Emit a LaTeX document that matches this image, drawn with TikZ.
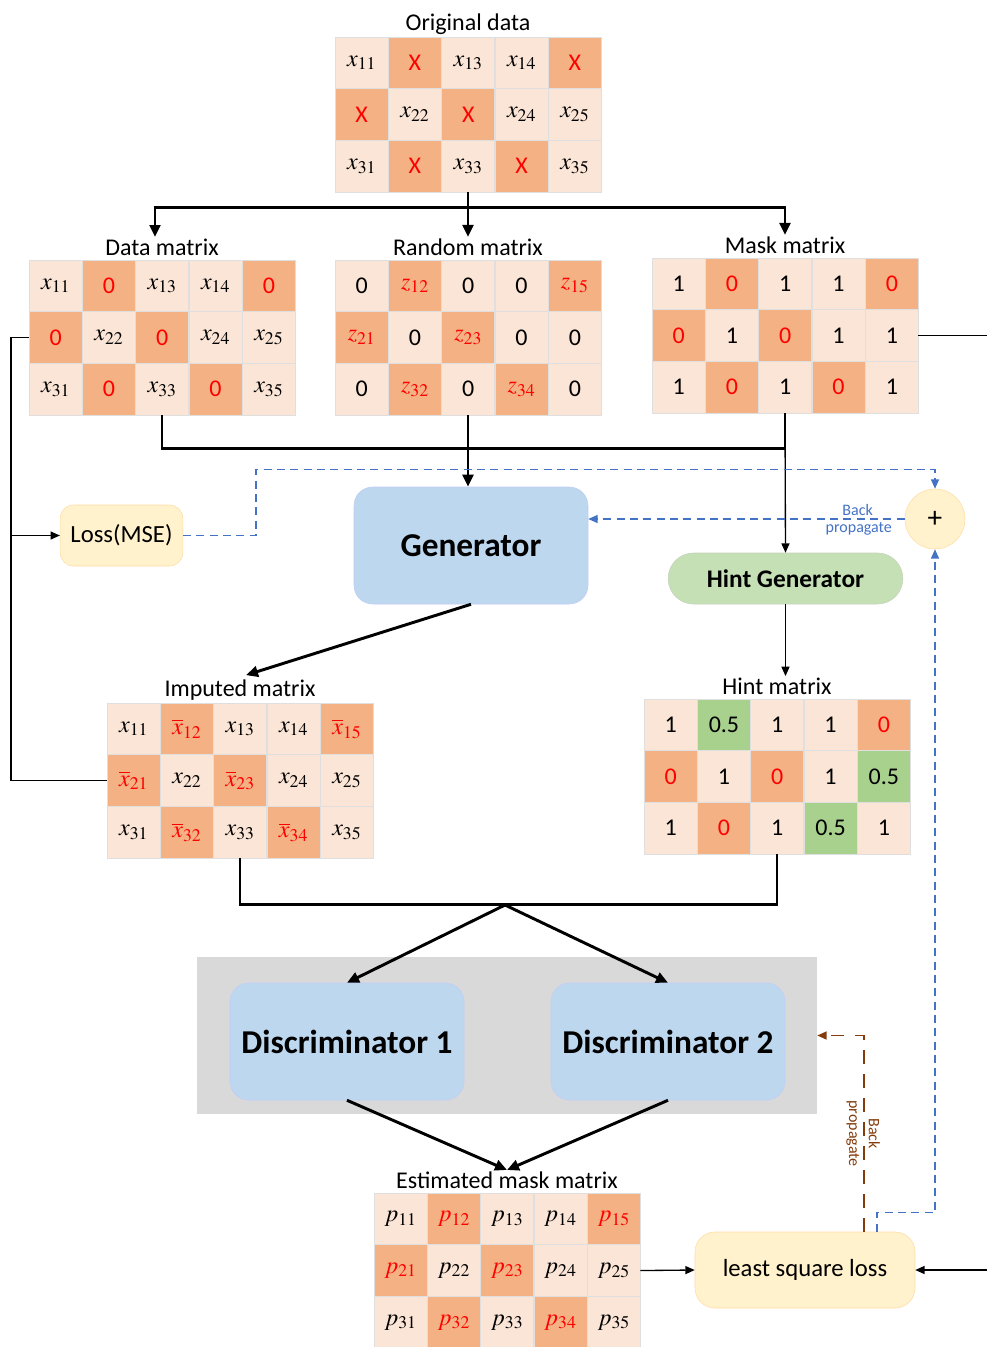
\documentclass[tikz,border=0pt]{standalone}
\usepackage{mathptmx}
\usepackage{fontspec}
\setmainfont{Carlito}
\usepackage{xcolor}
\usetikzlibrary{arrows.meta,calc,positioning}

\definecolor{lc}{HTML}{FBE5D6}
\definecolor{dc}{HTML}{F4B183}
\definecolor{gc}{HTML}{A9D18E}
\definecolor{genblue}{HTML}{BDD7EE}
\definecolor{hintgreen}{HTML}{C5E0B4}
\definecolor{lossyellow}{HTML}{FFF2CC}
\definecolor{boxgray}{HTML}{D9D9D9}
\definecolor{bpblue}{HTML}{4472C4}
\definecolor{bpbrown}{HTML}{843C0C}

% cell texts
\newcommand{\xv}[1]{$x_{#1}$}
\newcommand{\xb}[1]{\textcolor{red}{$\overline{x}_{#1}$}}
\newcommand{\pv}[1]{$p_{#1}$}
\newcommand{\pr}[1]{\textcolor{red}{$p_{#1}$}}
\newcommand{\zr}[1]{\textcolor{red}{$z_{#1}$}}
\newcommand{\rd}[1]{\textcolor{red}{#1}}

% name, left x, top y, title, cells
\newcommand{\datagrid}[5]{%
	\node[grid, anchor=north west] (#1) at (#2,#3) {};
	\node[title] (#1-t) at ($(#1.north)+(0,-13)$) {#4};
	\foreach \k/\txt [count=\i from 0] in {#5} {
		\pgfmathtruncatemacro{\cc}{mod(\i,5)}
		\pgfmathtruncatemacro{\rr}{\i/5}
		\node[cell, fill=\k] (#1-\rr\cc) at ({#2+26.65+53.3*\cc},{#3+25.85+51.7*\rr}) {\txt};
	}}

\begin{document}
\begin{tikzpicture}[x=0.75pt, y=-0.75pt]
	% % % % % % % % % % % % % % % % % % % % % % % % % % % % % %
	% Define styles
	\tikzstyle{cell} = [rectangle, draw=gray!25, line width=0.6pt, minimum width=39.9pt,
						minimum height=38.8pt, inner sep=0pt, outer sep=0pt, font=\fontsize{18}{18}\selectfont]
	\tikzstyle{grid} = [rectangle, minimum width=199.5pt, minimum height=116.3pt, inner sep=0pt, outer sep=0pt]
	\tikzstyle{title} = [inner sep=1pt, font=\fontsize{18}{18}\selectfont]
	\tikzstyle{block} = [rectangle, draw=genblue!80!blue!60, fill=genblue, rounded corners=14pt,
						 minimum width=175.5pt, minimum height=87.75pt, font=\fontsize{25}{25}\selectfont\bfseries]
	\tikzstyle{lossbox} = [rectangle, draw=lossyellow!80!orange, fill=lossyellow, rounded corners=10pt,
						   font=\fontsize{18.5}{18.5}\selectfont]
	\tikzstyle{line} = [draw, -{Triangle[length=9pt,width=8pt]}, line width=2.2pt]
	\tikzstyle{link} = [draw, -{Triangle[length=7pt,width=6pt]}, line width=1pt]
	\tikzstyle{bp} = [draw=bpblue, dash pattern=on 6pt off 4pt, line width=1.1pt, -{Triangle[length=7pt,width=6pt]}]
	\tikzstyle{brn} = [draw=bpbrown, dash pattern=on 10pt off 8pt, line width=1.1pt, -{Triangle[length=7pt,width=6pt]}]
	\tikzstyle{bplabel} = [text=bpblue, inner sep=2pt, font=\fontsize{12}{12}\selectfont]
	\tikzstyle{brlabel} = [text=bpbrown, inner sep=3pt, font=\fontsize{12}{12}\selectfont]

	\useasboundingbox (0,0) rectangle (987,1347);

	% % % % % % % % % % % % % % % % % % % % % % % % % % % % % %
	% Place matrices
	\datagrid{orig}{335}{37}{Original data}{lc/\xv{11}, dc/\rd{X}, lc/\xv{13}, lc/\xv{14}, dc/\rd{X},
		dc/\rd{X}, lc/\xv{22}, dc/\rd{X}, lc/\xv{24}, lc/\xv{25},
		lc/\xv{31}, dc/\rd{X}, lc/\xv{33}, dc/\rd{X}, lc/\xv{35}}
	\datagrid{data}{29}{260}{Data matrix}{lc/\xv{11}, dc/\rd{0}, lc/\xv{13}, lc/\xv{14}, dc/\rd{0},
		dc/\rd{0}, lc/\xv{22}, dc/\rd{0}, lc/\xv{24}, lc/\xv{25},
		lc/\xv{31}, dc/\rd{0}, lc/\xv{33}, dc/\rd{0}, lc/\xv{35}}
	\datagrid{rand}{335}{260}{Random matrix}{lc/0, dc/\zr{12}, lc/0, lc/0, dc/\zr{15},
		dc/\zr{21}, lc/0, dc/\zr{23}, lc/0, lc/0,
		lc/0, dc/\zr{32}, lc/0, dc/\zr{34}, lc/0}
	\datagrid{mask}{652}{258}{Mask matrix}{lc/1, dc/\rd{0}, lc/1, lc/1, dc/\rd{0},
		dc/\rd{0}, lc/1, dc/\rd{0}, lc/1, lc/1,
		lc/1, dc/\rd{0}, lc/1, dc/\rd{0}, lc/1}
	\datagrid{imp}{107}{703}{Imputed matrix}{lc/\xv{11}, dc/\xb{12}, lc/\xv{13}, lc/\xv{14}, dc/\xb{15},
		dc/\xb{21}, lc/\xv{22}, dc/\xb{23}, lc/\xv{24}, lc/\xv{25},
		lc/\xv{31}, dc/\xb{32}, lc/\xv{33}, dc/\xb{34}, lc/\xv{35}}
	\datagrid{hint}{644}{699}{Hint matrix}{lc/1, gc/0.5, lc/1, lc/1, dc/\rd{0},
		dc/\rd{0}, lc/1, dc/\rd{0}, lc/1, gc/0.5,
		lc/1, dc/\rd{0}, lc/1, gc/0.5, lc/1}
	\datagrid{est}{374}{1193}{Estimated mask matrix}{lc/\pv{11}, dc/\pr{12}, lc/\pv{13}, lc/\pv{14}, dc/\pr{15},
		dc/\pr{21}, lc/\pv{22}, dc/\pr{23}, lc/\pv{24}, lc/\pv{25},
		lc/\pv{31}, dc/\pr{32}, lc/\pv{33}, dc/\pr{34}, lc/\pv{35}}

	% % % % % % % % % % % % % % % % % % % % % % % % % % % % % %
	% Place blocks
	\node [lossbox, minimum width=92pt, minimum height=45.75pt] (loss) at (121.5,535.5) {Loss(MSE)};
	\node [block] (gen) at (471,545.5) {Generator};
	\node [block, fill=hintgreen, draw=hintgreen!80!black!60, rounded corners=19pt, minimum width=176pt,
		   minimum height=38.25pt, font=\fontsize{19}{19}\selectfont\bfseries] (hintgen) at (785.5,578.5) {Hint Generator};
	\node [circle, draw=lossyellow!80!orange, fill=lossyellow, minimum size=45pt, inner sep=0pt,
		   font=\fontsize{22}{22}\selectfont] (plus) at (935,519) {+};
	\node [rectangle, fill=boxgray, minimum width=465pt, minimum height=117.75pt] (disbox) at (507,1035.5) {};
	\node [block] (disa) at (347,1041.5) {Discriminator 1};
	\node [block] (disb) at (668,1041.5) {Discriminator 2};
	\node [lossbox, minimum width=165pt, minimum height=57pt, rounded corners=15pt] (lsl) at (805,1270) {least square loss};

	% % % % % % % % % % % % % % % % % % % % % % % % % % % % % %
	% Draw edges
	% original data split
	\coordinate (split) at ($(orig.south)+(0,15)$);
	\path [line,-] (orig.south) -- (split);
	\path [line] (split) -| ($(data-t.north)+(-7,0)$);
	\path [line] (split) -- (rand-t.north);
	\path [line] (split) -| (mask-t.north);
	% % into generator
	\path [line,-] (data.south) -- ++(0,33) -| (mask.south);
	\path [line] (rand.south) -- (rand.south |- gen.north);
	\path [link] (mask.south) -- (hintgen.north);
	% % left loop
	\coordinate (lft) at ($(data-10.west)+(-18,0)$);
	\path [link,-] (data-10.west) -- (lft) |- (imp-10.west);
	\path [link] (lft |- loss.west) -- (loss.west);
	% % back propagation to generator
	\path [bp] (loss.east) -- ++(73,0) -- ++(0,-66) -| (plus.north);
	\path [bp] (plus.west) -- (plus.west -| gen.east)
		node [bplabel, pos=0.09, anchor=south east] {Back}
		node [bplabel, pos=0.03, anchor=north east] {propagate};
	% % generator outputs
	\path [link] (hintgen.south) -- (hintgen.south |- hint-t.north);
	\path [line] (gen.south) -- ($(imp-t.north)+(6,-3)$);
	% % discriminators
	\path [line,-] (imp.south) -- ++(0,46) -| (hint.south);
	\coordinate (join) at (505,905);
	\path [line] (join) -- (disa.north);
	\path [line] (join) -- (disb.north);
	\path [line] (disa.south) -- (est-t.north);
	\path [line] (disb.south) -- (est-t.north);
	% % least square loss
	\path [link] (est-14.east) -- (lsl.west);
	\path [link] (mask-14.east) -- ++(75,0) |- (lsl.east);
	\path [brn] ($(lsl.north)+(59,0)$) |- (disbox.east)
		node [brlabel, pos=0.25, rotate=-90, anchor=south] {Back}
		node [brlabel, pos=0.25, rotate=-90, anchor=north] {propagate};
	\path [bp] ($(lsl.north)+(72,0)$) -- ++(0,-19) -| (plus.south);
\end{tikzpicture}
\end{document}
